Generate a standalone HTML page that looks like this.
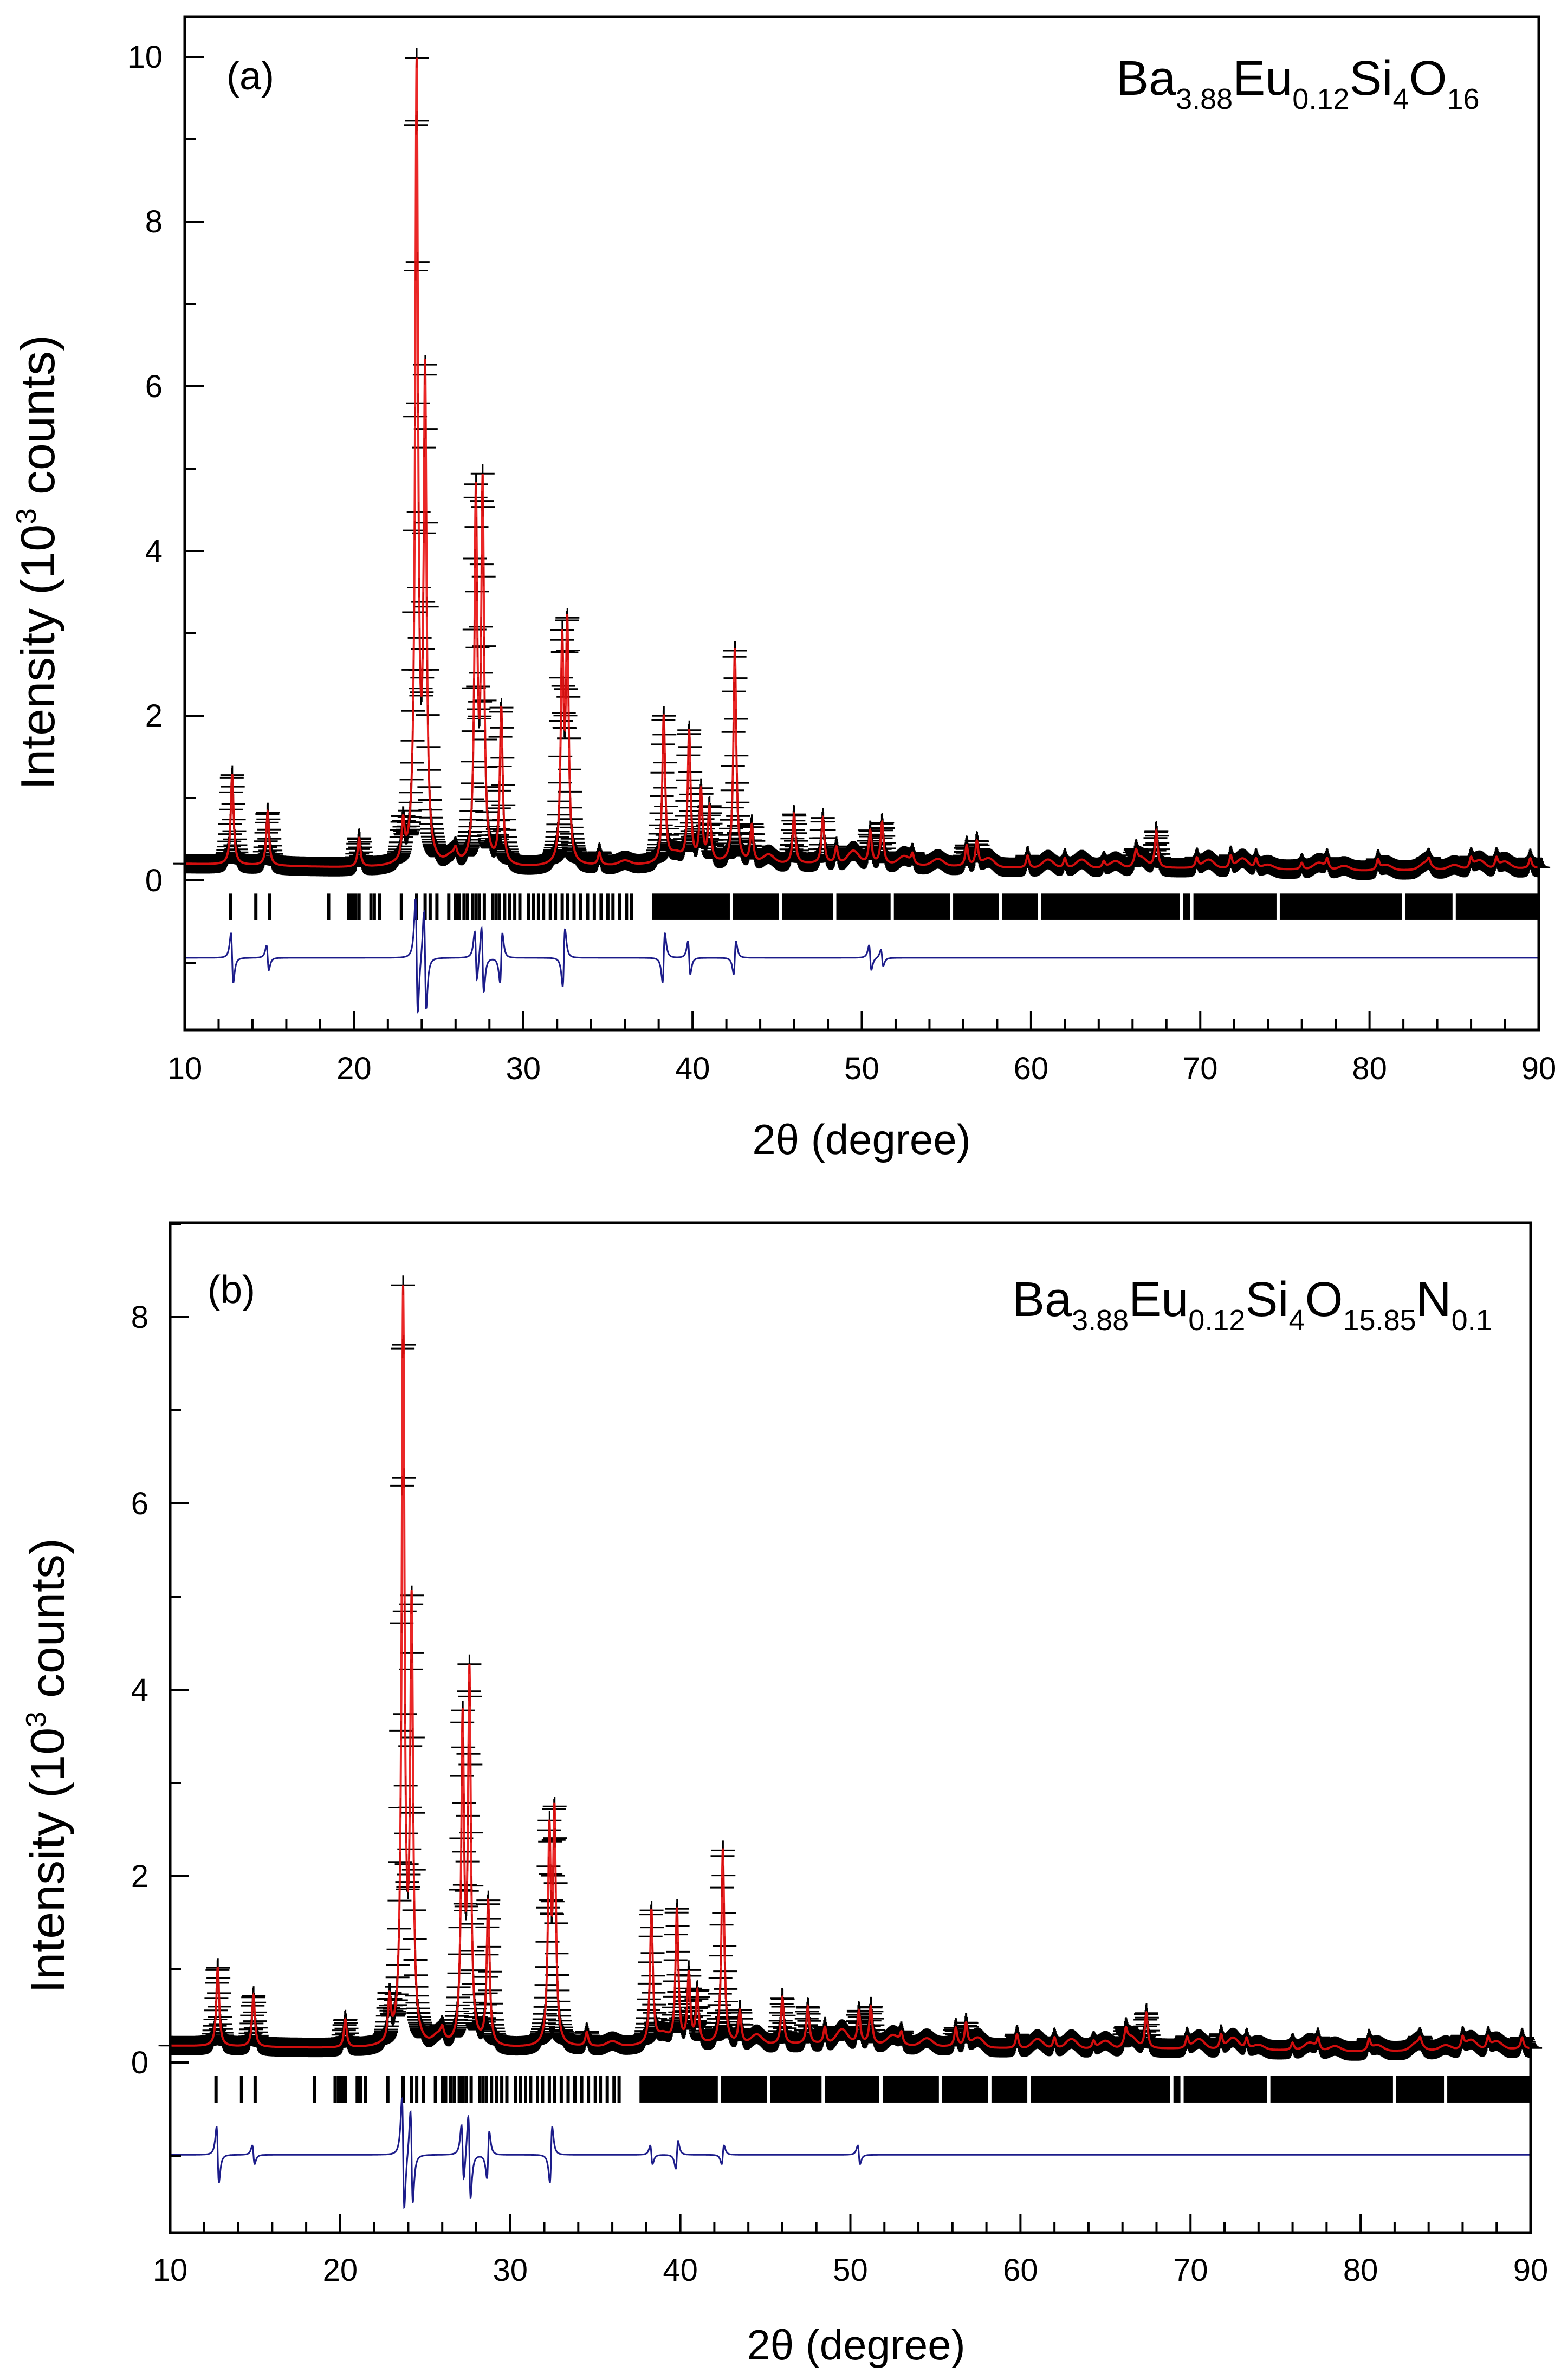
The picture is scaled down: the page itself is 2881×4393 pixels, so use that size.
<!DOCTYPE html>
<html><head><meta charset="utf-8"><style>
html,body{margin:0;padding:0;background:#fff}
svg{display:block}
text{font-family:"Liberation Sans",sans-serif;fill:#000}
</style></head><body>
<svg id="fig" xmlns="http://www.w3.org/2000/svg" width="2881" height="4393" viewBox="0 0 2881 4393">
<g id="pa"></g>
<g id="pb"></g>
</svg>
<script>
// ---- Panel (a) data ----
const peaksA_pos=[12.8,14.9,20.3,22.9,23.7,24.2,26.0,27.2,27.6,28.7,32.3,32.6,34.5,38.3,39.8,40.5,41.0,42.5,43.5,46.0,47.7,48.5,50.5,51.2,53.0,56.2,56.8,59.8,62.0,64.3,66.2,67.4,69.8,71.8,73.3,76.0,77.5,80.5,83.5,86.0,87.5,89.5];
const peaksA_h=[1.1,0.65,0.35,0.45,9.6,5.8,0.1,4.4,4.5,1.9,2.6,2.8,0.15,1.8,1.6,0.85,0.65,2.6,0.45,0.6,0.55,0.2,0.4,0.5,0.12,0.25,0.3,0.15,0.12,0.08,0.15,0.45,0.12,0.15,0.12,0.08,0.12,0.12,0.08,0.12,0.12,0.12];
const bumpA_pos=[25.8,36,39,44.5,49.5,52.5,54.5,57.5,61,63,65,66.5,70.5,72.5,74,77,78.5,81,83.3,85,86.5,88];
const bumpA_h=[0.1,0.05,0.1,0.1,0.15,0.1,0.08,0.1,0.1,0.1,0.08,0.12,0.1,0.12,0.05,0.08,0.05,0.06,0.08,0.05,0.1,0.08];
const bgA_x=[10,20,30,40,50,60,70,80,90];
const bgA_y=[0.2,0.15,0.15,0.2,0.2,0.15,0.15,0.12,0.15];
const diffA_pos=[12.8,14.9,23.7,24.2,27.2,27.6,28.7,32.4,38.3,39.8,42.5,50.5,51.2];
const diffA_amp=[0.3,0.15,0.7,0.6,0.3,0.4,-0.3,-0.35,-0.3,0.2,-0.2,0.15,0.1];
const reflA_sparse=[12.7,14.2,15.0,18.5,19.7,19.9,20.1,20.3,21.0,21.2,21.5,22.8,23.7,24.2,24.5,24.9,25.6,26.0,26.2,26.5,26.7,27.0,27.2,27.4,27.7,28.2,28.4,28.6,28.9,29.2,29.5,29.8,30.3,30.6,30.9,31.2,31.6,31.9,32.3,32.6,33.0,33.4,33.8,34.2,34.6,35.0,35.3,35.7,36.1,36.4];
const reflA_gaps=[42.3,45.2,48.4,51.8,55.3,58.2,60.5,68.9,69.5,74.6,82.0,85.0];
// ---- Panel (b) data ----
const peaksB_pos=[12.8,14.9,20.3,22.9,23.7,24.2,26.0,27.2,27.6,28.7,32.3,32.6,34.5,38.3,39.8,40.5,41.0,42.5,43.5,46.0,47.5,48.5,50.5,51.2,53.0,56.2,56.8,59.8,62.0,64.3,66.2,67.4,69.8,71.8,73.3,76.0,77.5,80.5,83.5,86.0,87.5,89.5];
const peaksB_h=[0.85,0.55,0.3,0.45,8.0,4.6,0.1,3.4,3.9,1.55,2.2,2.4,0.15,1.45,1.45,0.75,0.55,2.1,0.35,0.5,0.4,0.18,0.35,0.4,0.12,0.2,0.25,0.15,0.12,0.08,0.15,0.38,0.12,0.15,0.12,0.08,0.12,0.12,0.08,0.12,0.12,0.12];
const bumpB_pos=[25.8,36,39,44.5,49.5,52.5,54.5,57.5,61,63,65,66.5,70.5,72.5,74,77,78.5,81,83.3,85,86.5,88];
const bumpB_h=[0.1,0.05,0.1,0.1,0.15,0.1,0.08,0.1,0.1,0.1,0.08,0.12,0.1,0.12,0.05,0.08,0.05,0.06,0.08,0.05,0.1,0.08];
const bgB_x=[10,20,30,40,50,60,70,80,90];
const bgB_y=[0.18,0.15,0.15,0.18,0.2,0.15,0.15,0.12,0.15];
const diffB_pos=[12.8,14.9,23.7,24.2,27.2,27.6,28.7,32.4,38.3,39.8,42.5,50.5];
const diffB_amp=[0.3,0.1,0.6,0.5,0.3,0.45,-0.25,-0.3,0.1,-0.15,-0.1,0.1];
const reflB_sparse=[12.7,14.2,15.0,18.5,19.7,19.9,20.1,20.3,21.0,21.2,21.5,22.8,23.7,24.2,24.5,24.9,25.6,26.0,26.2,26.5,26.7,27.0,27.2,27.4,27.7,28.2,28.4,28.6,28.9,29.2,29.5,29.8,30.3,30.6,30.9,31.2,31.6,31.9,32.3,32.6,33.0,33.4,33.8,34.2,34.6,35.0,35.3,35.7,36.1,36.4];
const reflB_gaps=[42.3,45.2,48.4,51.8,55.3,58.2,60.5,68.9,69.5,74.6,82.0,85.0];
const xTicks=[10,20,30,40,50,60,70,80,90];

const NS="http://www.w3.org/2000/svg";
function mk(parent,tag,attrs,txt){const e=document.createElementNS(NS,tag);for(const k in attrs)e.setAttribute(k,attrs[k]);if(txt!==undefined)e.textContent=txt;parent.appendChild(e);return e;}
function interp(xs,ys,x){for(let i=0;i<xs.length-1;i++){if(x<=xs[i+1]){const t=(x-xs[i])/(xs[i+1]-xs[i]);return ys[i]+t*(ys[i+1]-ys[i]);}}return ys[ys.length-1];}

function drawPanel(g,L,D){
  const sx=v=>L.left+(v-10)/80*(L.right-L.left);
  const sy=v=>L.y0-v*L.ppk;
  const W=0.1;
  const calc=x=>{let s=interp(D.bgx,D.bgy,x);
    for(let i=0;i<D.pos.length;i++){const u=(x-D.pos[i])/W;s+=D.h[i]/(1+u*u);}
    for(let i=0;i<D.bpos.length;i++){const u=(x-D.bpos[i])/0.45;s+=D.bh[i]*Math.exp(-u*u);}
    return s;};
  const diff=x=>{let s=L.diff0;for(let i=0;i<D.dpos.length;i++){const u=(x-D.dpos[i])/0.12;s+=D.damp[i]/0.325*(-u)/Math.pow(1+u*u,2);}return s;};
  let p="";
  for(let x=10.02;x<89.99;x+=0.03){const X=sx(x),Y=sy(calc(x));p+=`M${(X-22).toFixed(1)} ${Y.toFixed(1)}h44M${X.toFixed(1)} ${(Y-18).toFixed(1)}v36`;}
  const obs=mk(g,"path",{d:p,stroke:"#000","stroke-width":"3",fill:"none"});
  
  
  let c="";
  for(let x=10;x<=90.001;x+=0.01){c+=(c?"L":"M")+sx(x).toFixed(1)+" "+sy(calc(x)).toFixed(1);}
  const cl=mk(g,"path",{d:c,stroke:"#e81010","stroke-width":"4",fill:"none","stroke-opacity":"0.9"});
  
  
  const ry1=sy(L.r1),ry2=sy(L.r2);
  let r="";
  D.sparse.forEach(v=>{r+=`M${sx(v).toFixed(1)} ${ry1}V${ry2}`;});
  const rt=mk(g,"path",{d:r,stroke:"#000","stroke-width":"6",fill:"none"});
  
  
  const edges=[37.6].concat(D.gaps).concat([90]);
  for(let i=0;i<edges.length-1;i++){
    const a=sx(edges[i])+(i?3:0),b=sx(edges[i+1])-(i<edges.length-2?3:0);
    const rb=mk(g,"rect",{x:a,y:ry1,width:Math.max(0,b-a),height:ry2-ry1,fill:"#000"});
    
    
  }
  let d="";
  for(let x=10;x<=90.001;x+=0.02){d+=(d?"L":"M")+sx(x).toFixed(1)+" "+sy(diff(x)).toFixed(1);}
  const dl=mk(g,"path",{d:d,stroke:"#1c1c8a","stroke-width":"3",fill:"none"});
  
  
  const fr=mk(g,"rect",{x:L.left,y:L.top,width:L.right-L.left,height:L.bottom-L.top,fill:"none",stroke:"#000","stroke-width":"5"});
  
  
  let yt="";
  for(let v=-1;v<=L.ymaxTick;v++){const Y=sy(v);yt+=`M${L.left} ${Y}h${v%2===0?35:20}`;}
  const yta=mk(g,"path",{d:yt,stroke:"#000","stroke-width":"4"});
  
  
  for(let v=0;v<=L.ymaxTick;v+=2){
    const t=mk(g,"text",{x:L.labX,y:sy(v)+20,"text-anchor":"end","font-size":"58"},String(v));
    
    
  }
  let xt="";
  for(let v=12;v<90;v+=2){xt+=`M${sx(v)} ${L.bottom}v${v%10===0?-35:-20}`;}
  const xta=mk(g,"path",{d:xt,stroke:"#000","stroke-width":"4"});
  
  
  xTicks.forEach(v=>{
    const t=mk(g,"text",{x:sx(v),y:L.xlabY,"text-anchor":"middle","font-size":"58"},String(v));
    
    
  });
  const yt2=mk(g,"text",{transform:`translate(${L.ytX},${L.ytY}) rotate(-90)`,"text-anchor":"middle","font-size":"88",textLength:"840",lengthAdjust:"spacingAndGlyphs"});
  
  
  yt2.innerHTML='Intensity (10<tspan dy="-34" font-size="52">3</tspan><tspan dy="34"> counts)</tspan>';
  const xt2=mk(g,"text",{x:L.xtX,y:L.xtY,"text-anchor":"middle","font-size":"78"},"2θ (degree)");
  
  
  const pl=mk(g,"text",{x:L.plX,y:L.plY,"font-size":"72"},L.panel);
  
  
  const fm=mk(g,"text",{x:L.fX,y:L.fY,"font-size":"90"});
  
  
  fm.innerHTML=L.formula;
}
const sub=s=>`<tspan dy="26" font-size="54">${s}</tspan><tspan dy="-26">`;
const fA='Ba'+sub('3.88')+'Eu</tspan>'+sub('0.12')+'Si</tspan>'+sub('4')+'O</tspan>'+sub('16')+'</tspan>';
const fB='Ba'+sub('3.88')+'Eu</tspan>'+sub('0.12')+'Si</tspan>'+sub('4')+'O</tspan>'+sub('15.85')+'N</tspan>'+sub('0.1')+'</tspan>';
drawPanel(document.getElementById('pa'),
 {left:341,right:2840,top:31,bottom:1901,y0:1625,ppk:152,diff0:-0.94,r1:-0.16,r2:-0.48,ymaxTick:10,labX:300,xlabY:1992,ytX:100,ytY:1038,xtX:1590,xtY:2130,plX:418,plY:165,panel:"(a)",fX:2060,fY:175,formula:fA},
 {pos:peaksA_pos,h:peaksA_h,bpos:bumpA_pos,bh:bumpA_h,bgx:bgA_x,bgy:bgA_y,dpos:diffA_pos,damp:diffA_amp,sparse:reflA_sparse,gaps:reflA_gaps});
drawPanel(document.getElementById('pb'),
 {left:314,right:2825,top:2257,bottom:4121,y0:3807,ppk:172,diff0:-0.99,r1:-0.14,r2:-0.43,ymaxTick:9,labX:274,xlabY:4210,ytX:118,ytY:3259,xtX:1580,xtY:4355,plX:383,plY:2405,panel:"(b)",fX:1868,fY:2429,formula:fB},
 {pos:peaksB_pos,h:peaksB_h,bpos:bumpB_pos,bh:bumpB_h,bgx:bgB_x,bgy:bgB_y,dpos:diffB_pos,damp:diffB_amp,sparse:reflB_sparse,gaps:reflB_gaps});
</script>
</body></html>
